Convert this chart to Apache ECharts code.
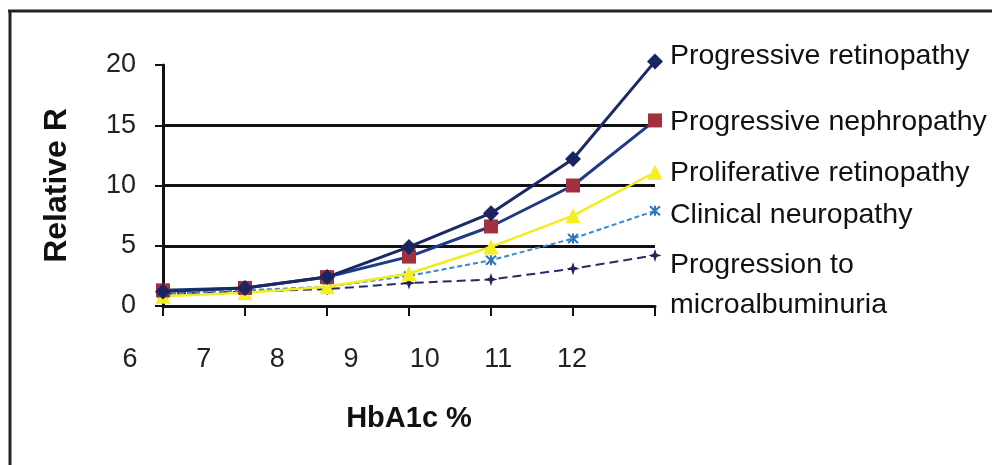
<!DOCTYPE html>
<html>
<head>
<meta charset="utf-8">
<script src="https://cdn.jsdelivr.net/npm/echarts@6/dist/echarts.min.js"></script>
<style>
  html, body { margin: 0; padding: 0; background: #fff; }
  #chart { width: 999px; height: 465px; }
</style>
</head>
<body>
<div id="chart"></div>
<script>
// HbA1c categories (x tick labels)
const hba1cLabels = ['6', '7', '8', '9', '10', '11', '12'];

// Relative risk per complication
const progressiveRetinopathy = [1.2, 1.5, 2.4, 4.9, 7.7, 12.2, 20.3];
const progressiveNephropathy = [1.3, 1.5, 2.4, 4.1, 6.6, 10.0, 15.4];
const proliferativeRetinopathy = [0.8, 1.1, 1.6, 2.7, 4.9, 7.5, 11.1];
const clinicalNeuropathy = [1.0, 1.3, 1.6, 2.5, 3.8, 5.6, 7.9];
const microalbuminuria = [1.0, 1.2, 1.4, 1.9, 2.2, 3.1, 4.2];

// Y ticks
const yMin = 0, yMax = 20, yStep = 5;

const chart = echarts.init(document.getElementById('chart'));
const FONT = 'Liberation Sans, Arial, sans-serif';

function endLabel(offset, extra) {
  return Object.assign({
    show: true,
    formatter: '{a}',
    color: '#111',
    fontFamily: FONT,
    fontSize: 28.5,
    distance: 15,
    offset: offset
  }, extra || {});
}

chart.setOption({
  animation: false,
  backgroundColor: '#fff',
  graphic: [
    { type: 'line', shape: { x1: 8, y1: 11, x2: 992, y2: 11 }, style: { stroke: '#222', lineWidth: 3 } },
    { type: 'line', shape: { x1: 10, y1: 10, x2: 10, y2: 465 }, style: { stroke: '#222', lineWidth: 3 } }
  ],
  grid: [
    { left: 163, right: 344, top: 65, bottom: 159 },
    { left: 130, right: 427, top: 65, bottom: 159 }
  ],
  xAxis: [
    {
      type: 'category',
      gridIndex: 0,
      data: hba1cLabels,
      boundaryGap: false,
      axisLine: { lineStyle: { color: '#111', width: 3 } },
      axisTick: { show: true, inside: false, length: 10, alignWithLabel: true, lineStyle: { color: '#111', width: 2 } },
      axisLabel: { show: false },
      splitLine: { show: false },
      name: 'HbA1c %',
      nameLocation: 'middle',
      nameGap: 98,
      nameTextStyle: { fontFamily: FONT, fontWeight: 'bold', fontSize: 29, color: '#111' }
    },
    {
      type: 'category',
      gridIndex: 1,
      data: hba1cLabels,
      boundaryGap: false,
      axisLine: { show: false },
      axisTick: { show: false },
      axisLabel: { show: true, margin: 40, fontFamily: FONT, fontSize: 27, color: '#222' },
      splitLine: { show: false }
    }
  ],
  yAxis: [
    {
      type: 'value',
      gridIndex: 0,
      min: yMin, max: yMax, interval: yStep,
      axisLine: { show: true, lineStyle: { color: '#111', width: 3 } },
      axisTick: { show: true, length: 8, lineStyle: { color: '#111', width: 2 } },
      axisLabel: { margin: 27, fontFamily: FONT, fontSize: 27, color: '#222' },
      splitLine: {
        show: true,
        lineStyle: { color: ['#111', '#111', '#111', '#111', 'rgba(0,0,0,0)'], width: 3 }
      },
      name: 'Relative R',
      nameLocation: 'middle',
      nameGap: 90,
      nameTextStyle: { fontFamily: FONT, fontWeight: 'bold', fontSize: 32, color: '#111' }
    },
    {
      type: 'value',
      gridIndex: 1,
      min: yMin, max: yMax,
      show: false
    }
  ],
  series: [
    {
      name: 'Progression to\nmicroalbuminuria',
      type: 'line',
      data: microalbuminuria,
      clip: false,
      symbol: 'path://M0,-10 L2.5,-2.5 L10,0 L2.5,2.5 L0,10 L-2.5,2.5 L-10,0 L-2.5,-2.5 Z',
      symbolSize: 13,
      itemStyle: { color: '#24245a' },
      lineStyle: { color: '#2a2a66', width: 2, type: [9, 5] },
      endLabel: endLabel([0, 30], { lineHeight: 40 }),
      z: 2
    },
    {
      name: 'Clinical neuropathy',
      type: 'line',
      data: clinicalNeuropathy,
      clip: false,
      symbol: 'path://M-8,-8 L8,8 M8,-8 L-8,8 M0,-9 L0,9',
      symbolSize: 10,
      itemStyle: { color: 'rgba(0,0,0,0)', borderColor: '#2f74c0', borderWidth: 2 },
      lineStyle: { color: '#3a88cf', width: 2, type: [5, 3] },
      endLabel: endLabel([0, 4]),
      z: 3
    },
    {
      name: 'Proliferative retinopathy',
      type: 'line',
      data: proliferativeRetinopathy,
      clip: false,
      symbol: 'triangle',
      symbolSize: 15,
      itemStyle: { color: '#f4ee22' },
      lineStyle: { color: '#f2ec1e', width: 2.5 },
      endLabel: endLabel([0, 1]),
      z: 4
    },
    {
      name: 'Progressive nephropathy',
      type: 'line',
      data: progressiveNephropathy,
      clip: false,
      symbol: 'rect',
      symbolSize: 14,
      itemStyle: { color: '#a2303e' },
      lineStyle: { color: '#1f3a86', width: 3 },
      endLabel: endLabel([0, 2]),
      z: 5
    },
    {
      name: 'Progressive retinopathy',
      type: 'line',
      data: progressiveRetinopathy,
      clip: false,
      symbol: 'diamond',
      symbolSize: 16,
      itemStyle: { color: '#1a2560' },
      lineStyle: { color: '#1b2866', width: 3 },
      endLabel: endLabel([0, -5]),
      z: 6
    }
  ]
});
</script>
</body>
</html>
